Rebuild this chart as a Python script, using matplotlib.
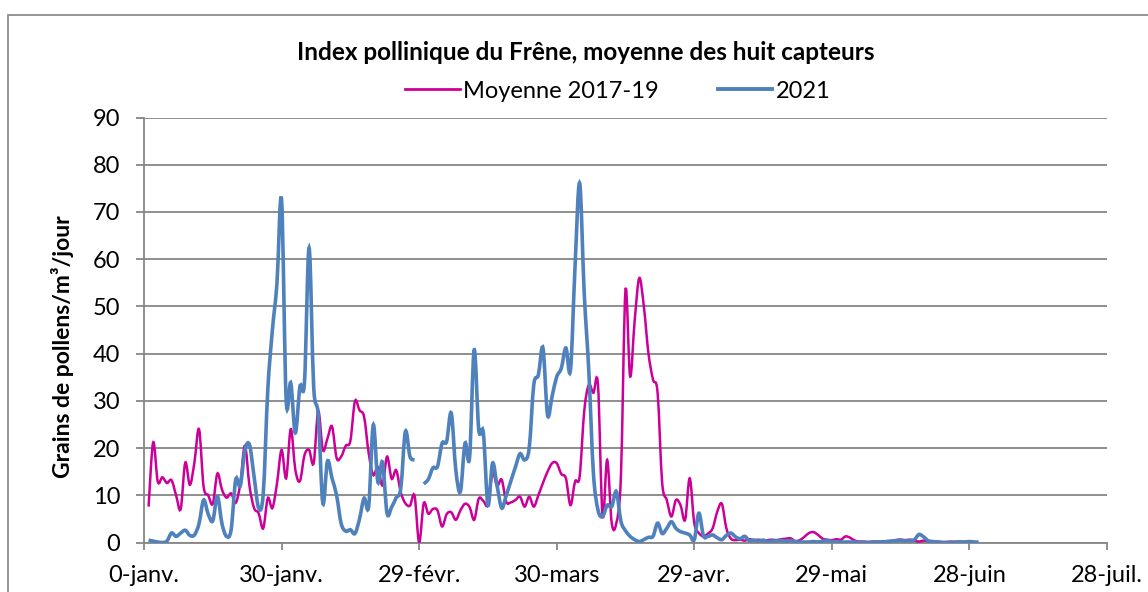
import matplotlib
matplotlib.use("Agg")
import matplotlib.pyplot as plt
import numpy as np
from matplotlib.path import Path
from matplotlib.patches import PathPatch, Rectangle
from matplotlib.lines import Line2D

# --- données (jour de l'année, 1 = 1-janv.) ---
tick_days = [0, 30, 60, 90, 120, 150, 180, 210]
tick_labels = ["0-janv.", "30-janv.", "29-févr.", "30-mars",
               "29-avr.", "29-mai", "28-juin", "28-juil."]

moyenne_2017_19 = [
    7.6, 21.2, 12.9, 13.8, 12.6, 13.2, 10, 7.1, 16.9, 12.2,
    17, 24, 11.8, 10, 8.2, 14.6, 11.2, 9.5, 10.4, 8.4,
    12.5, 20.5, 12, 7.3, 6.2, 3, 9.4, 7.3, 12.5, 19.6,
    13.6, 24, 15.4, 13, 18.5, 19.6, 16.8, 27.8, 19.6, 22,
    24.6, 17.9, 18.2, 20.5, 21.5, 29.9, 28, 26.6, 18.9, 14.3,
    16, 12.1, 18.2, 13.5, 15.3, 10.6, 8.3, 7.8, 9.9, 0,
    8.3, 6.1, 7.1, 6.8, 3.4, 6, 6.4, 4.8, 6.8, 8.2,
    7.5, 4.8, 9.3, 8.8, 8, 14.7, 12, 13.3, 8.6, 8.5,
    9, 9.7, 7.6, 9.7, 7.6, 10, 12.6, 15, 16.8, 16.8,
    14.5, 13.6, 7.9, 12.9, 14, 27.8, 33.4, 31.7, 33.4, 5.5,
    17.5, 4.1, 4.1, 14, 53.5, 35.2, 47, 56, 50, 40.1,
    34.5, 31.7, 12.6, 9, 5.5, 9, 7.9, 4.8, 13.6, 4.1,
    2, 1.3, 1.9, 3, 6.5, 8.2, 3, 0.8, 0.5, 0.6,
    0.4, 0.7, 0.5, 0.6, 0.4, 0.5, 0.6, 0.5, 0.7, 0.8,
    0.9, 0.3, 0.5, 1.2, 2, 2.2, 1.6, 0.8, 0.6, 0.5,
    0.7, 0.6, 1.3, 1, 0.4, 0.2, 0.2, 0.1, 0.2, 0.2,
    0.2, 0.3, 0.3, 0.5, 0.6, 0.5, 0.6, 0.4, 0.2, 0.4,
    0.3, 0.2, 0.2, 0.1, 0.1, 0.2, 0.1, 0.2, 0.1, 0.1, 0.2,
]

annee_2021 = [
    0.5, 0.3, 0.1, 0, 0.3, 2.0, 1.3, 2, 2.6, 1.5,
    1.6, 4, 9, 6, 4.6, 9.8, 4, 1.3, 2.7, 13.3,
    12, 19.5, 20.7, 14, 7.3, 10.3, 32.4, 45, 55, 72.6,
    30.2, 33.8, 23.2, 33, 34, 62.4, 33, 27, 8.3, 17.2,
    13.6, 10, 4, 2.4, 2.7, 1.9, 5, 9.4, 7.7, 24.9,
    12.8, 17, 6.2, 7.5, 9.5, 11.5, 23.5, 18.2, 17.5, np.nan,
    12.4, 13.4, 15.8, 16.1, 21, 21.4, 27.4, 15.3, 10.8, 21,
    18, 40.8, 23.9, 23.2, 7.9, 16.8, 12, 7.3, 10, 13,
    16, 18.8, 17.5, 20, 33.4, 35.5, 41.2, 27, 31, 35.1,
    36.9, 41.2, 36.5, 58.5, 76.1, 52.8, 36.3, 14.7, 6.9, 5.5,
    7.9, 7.6, 10.8, 4.5, 2.5, 1.3, 0.6, 0.2, 0.6, 1.1,
    1.3, 4.1, 1.9, 3, 4.4, 3, 2.3, 2, 1.6, 0.6,
    6.2, 1.4, 1.3, 1.6, 1, 0.6, 1.5, 2, 1.2, 0.8,
    1.3, 0.4, 0.5, 0.3, 0.5, 0.2, 0.3, 0.4, 0.4, 0.3,
    0.4, 0.2, 0.1, 0.1, 0.1, 0.2, 0.1, 0.3, 0.4, 0.2,
    0.1, 0.1, 0.1, 0.1, 0.1, 0, 0, 0, 0.1, 0.1,
    0.1, 0.2, 0.3, 0.4, 0.5, 0.3, 0.4, 0.6, 1.7, 1.2,
    0.4, 0.2, 0.1, 0, 0, 0, 0.1, 0.1, 0.1, 0.2, 0.1, 0.1,
]

jours_moy = np.arange(1, len(moyenne_2017_19) + 1)
jours_2021 = np.arange(1, len(annee_2021) + 1)

c_moy = "#CC0099"
c_2021 = "#4F81BD"
grid_c = "#868686"

plt.rcParams["font.family"] = ["Lato", "DejaVu Sans"]


def smooth_path(x, y):
    # courbe lissee facon Excel (Bezier type Catmull-Rom), coupee aux trous
    x = np.asarray(x, float)
    y = np.asarray(y, float)
    verts, codes = [], []
    ok = ~np.isnan(y)
    i = 0
    while i < len(y):
        if not ok[i]:
            i += 1
            continue
        j = i
        while j < len(y) and ok[j]:
            j += 1
        p = np.column_stack([x[i:j], y[i:j]])
        n = len(p)
        if n > 1:
            verts.append(p[0])
            codes.append(Path.MOVETO)
            for k in range(n - 1):
                p0 = p[max(k - 1, 0)]
                p1 = p[k]
                p2 = p[k + 1]
                p3 = p[min(k + 2, n - 1)]
                verts += [p1 + (p2 - p0) / 6, p2 - (p3 - p1) / 6, p2]
                codes += [Path.CURVE4] * 3
        i = j
    return Path(verts, codes)


fig = plt.figure(figsize=(11.48, 5.92), dpi=100)
ax = fig.add_axes([144 / 1148, 49.5 / 592, (1107 - 144) / 1148, (542.5 - 117.5) / 592])

# cadre exterieur du graphique
fig.patches.append(Rectangle((8 / 1148, -0.2), 1.2, 1.2 - 15 / 592,
                             transform=fig.transFigure, fill=False,
                             edgecolor="#8C8C8C", linewidth=1.3))

ax.add_patch(PathPatch(smooth_path(jours_moy, moyenne_2017_19), fill=False,
                       edgecolor=c_moy, linewidth=1.8, zorder=3))
ax.add_patch(PathPatch(smooth_path(jours_2021, annee_2021), fill=False,
                       edgecolor=c_2021, linewidth=2.6, zorder=4))

ax.set_xlim(0, 210)
ax.set_ylim(0, 90)
ax.set_yticks(range(0, 91, 10))
ax.set_xticks(tick_days)
ax.set_xticklabels(tick_labels)
ax.grid(axis="y", color=grid_c, linewidth=1.3)
ax.set_axisbelow(True)
for s in ["top", "right"]:
    ax.spines[s].set_visible(False)
for s in ["left", "bottom"]:
    ax.spines[s].set_color(grid_c)
    ax.spines[s].set_linewidth(1.3)
ax.tick_params(axis="y", length=6, color=grid_c, width=1.3, pad=11, labelsize=17)
ax.tick_params(axis="x", length=5, color=grid_c, width=1.3, pad=11, labelsize=17)

ax.set_ylabel("Grains de pollens/m³/jour", fontsize=16.5, fontweight="bold")
ax.yaxis.set_label_coords(-0.073, 0.46)

fig.text(586 / 1148, 1 - 53 / 592, "Index pollinique du Frêne, moyenne des huit capteurs",
         ha="center", va="center", fontsize=17.5, fontweight="bold")

handles = [Line2D([], [], color=c_moy, linewidth=2.0),
           Line2D([], [], color=c_2021, linewidth=2.8)]
fig.legend(handles, ["Moyenne 2017-19", "2021"], loc="center",
           bbox_to_anchor=(618 / 1148, 1 - 91 / 592), ncol=2, frameon=False,
           fontsize=17, handlelength=2.3, handletextpad=0.15, columnspacing=2.5)

fig.savefig("out.png", dpi=100)
